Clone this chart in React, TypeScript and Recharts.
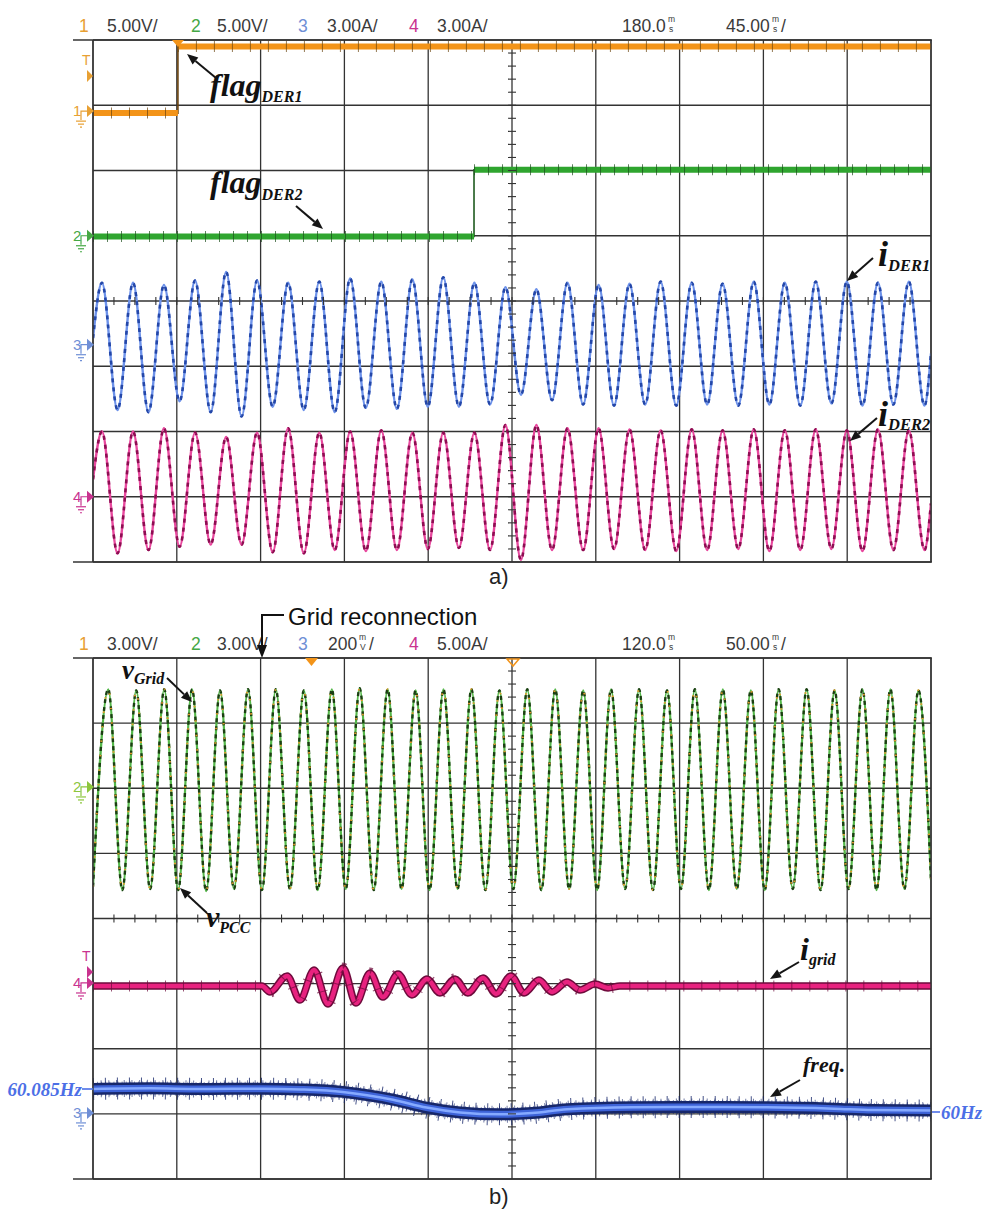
import React from 'react';
import { LineChart, Line, XAxis, YAxis, CartesianGrid, ReferenceLine } from 'recharts';

// ---------------- shared ----------------
const DIV_TICKS = [-4, -3, -2, -1, 0, 1, 2, 3, 4];

// ---------------- panel a (45 ms/div) ----------------
const A_XTICKS = [0, 45, 90, 135, 180, 225, 270, 315, 360, 405, 450];
// flag_DER1 (ch1, V): [start, switch, end] times and [low, high] levels
const flag1Times = [0, 45.6, 450];
const flag1Levels = [-0.15, 4.95];
// flag_DER2 (ch2, V)
const flag2Times = [0, 204.6, 450];
const flag2Levels = [-0.05, 5.05];
// i_DER1 / i_DER2 extrema times (ms)
const aPeakT = [4.8, 21.5, 38.1, 54.8, 71.5, 88.1, 104.8, 121.5, 138.1, 154.8, 171.5, 188.1, 204.8, 221.5, 238.1, 254.8, 271.5, 288.1, 304.8, 321.5, 338.1, 354.8, 371.5, 388.1, 404.8, 421.5, 438.1];
const aTroughT = [13.2, 29.8, 46.5, 63.2, 79.8, 96.5, 113.2, 129.8, 146.5, 163.2, 179.8, 196.5, 213.2, 229.8, 246.5, 263.2, 279.8, 296.5, 313.2, 329.8, 346.5, 363.2, 379.8, 396.5, 413.2, 429.8, 446.5];
// i_DER1 (ch3, A)
const iDer1Peak = [2.85, 2.85, 2.75, 2.95, 3.35, 2.95, 2.85, 2.9, 3.05, 2.9, 3.0, 3.1, 2.85, 2.65, 2.55, 2.85, 2.75, 2.8, 2.9, 2.85, 2.8, 2.9, 2.85, 2.9, 2.9, 2.85, 2.9];
const iDer1Trough = [-3.0, -3.1, -2.6, -3.1, -3.3, -2.85, -3.0, -3.1, -2.9, -2.95, -2.85, -2.85, -2.75, -2.3, -2.55, -2.75, -2.8, -2.75, -2.8, -2.75, -2.8, -2.75, -2.8, -2.7, -2.8, -2.75, -2.8];
const iDer1Ends = [0.3, -0.4];
// i_DER2 (ch4, A)
const iDer2Peak = [3.0, 3.0, 3.15, 2.95, 2.75, 2.95, 3.15, 2.95, 3.0, 3.05, 2.95, 2.95, 2.95, 3.3, 3.3, 3.15, 3.15, 3.1, 3.05, 3.1, 3.05, 3.1, 3.05, 3.1, 3.05, 3.1, 3.05];
const iDer2Trough = [-2.6, -2.45, -2.3, -2.2, -2.2, -2.55, -2.6, -2.45, -2.5, -2.45, -2.4, -2.35, -2.45, -2.9, -2.45, -2.45, -2.4, -2.45, -2.5, -2.45, -2.4, -2.5, -2.45, -2.4, -2.5, -2.45, -2.45];
const iDer2Ends = [0.8, -0.3];

// ---------------- panel b (50 ms/div) ----------------
const B_XTICKS = [0, 50, 100, 150, 200, 250, 300, 350, 400, 450, 500];
const bPeakT = [9.1, 25.8, 42.5, 59.1, 75.8, 92.5, 109.1, 125.8, 142.5, 159.1, 175.8, 192.5, 209.1, 225.8, 242.5, 259.1, 275.8, 292.5, 309.1, 325.8, 342.5, 359.1, 375.8, 392.5, 409.1, 425.8, 442.5, 459.1, 475.8, 492.5];
const bTroughT = [17.5, 34.1, 50.8, 67.5, 84.1, 100.8, 117.5, 134.1, 150.8, 167.5, 184.1, 200.8, 217.5, 234.1, 250.8, 267.5, 284.1, 300.8, 317.5, 334.1, 350.8, 367.5, 384.1, 400.8, 417.5, 434.1, 450.8, 467.5, 484.1];
// v_Grid / v_PCC (ch2, V) — traces overlap
const vPeak = [4.5, 4.45, 4.5, 4.5, 4.45, 4.5, 4.5, 4.45, 4.5, 4.55, 4.5, 4.45, 4.5, 4.5, 4.45, 4.5, 4.5, 4.45, 4.5, 4.5, 4.45, 4.5, 4.5, 4.45, 4.5, 4.5, 4.45, 4.5, 4.5, 4.45];
const vTrough = [-4.75, -4.7, -4.75, -4.8, -4.7, -4.75, -4.7, -4.75, -4.7, -4.75, -4.7, -4.75, -4.7, -4.75, -4.7, -4.75, -4.7, -4.75, -4.7, -4.75, -4.7, -4.75, -4.7, -4.75, -4.7, -4.75, -4.7, -4.75, -4.7];
const vEnds = [-4.6, -4.3];
// i_grid (ch4, A)
const iGridT = [0, 100.8, 105.6, 115.8, 123.5, 131.9, 140.2, 149.2, 156.9, 165.3, 173.0, 182.0, 190.3, 199.3, 207.0, 216.0, 223.7, 232.7, 240.5, 249.4, 257.2, 266.1, 273.9, 282.8, 290.6, 299.5, 307.3, 314.4, 500];
const iGridV = [-0.23, -0.23, -0.69, 0.54, -1.31, 1.0, -1.61, 1.15, -1.54, 0.77, -1.08, 0.69, -0.92, 0.31, -0.77, 0.31, -0.77, 0.38, -0.84, 0.54, -0.77, 0.23, -0.69, 0.08, -0.54, -0.08, -0.38, -0.23, -0.23];
// frequency (ch3, Hz)
const freqT = [0, 34, 64, 101, 124, 149, 179, 199, 219, 243, 262, 283, 322, 362, 402, 442, 465, 500];
const freqV = [60.085, 60.087, 60.085, 60.086, 60.083, 60.074, 60.045, 60.016, 59.998, 59.991, 59.996, 60.01, 60.017, 60.018, 60.017, 60.012, 60.007, 60.005];

// ---------------- channel settings (offset in div, units per div) ----------------
type Ch = { offset: number; scale: number; ref: number };
const A_CH1: Ch = { offset: 2.91, scale: 5, ref: 0 };
const A_CH2: Ch = { offset: 1.0, scale: 5, ref: 0 };
const A_CH3: Ch = { offset: -0.67, scale: 3, ref: 0 };
const A_CH4: Ch = { offset: -3.0, scale: 3, ref: 0 };
const B_CH2: Ch = { offset: 2.02, scale: 3, ref: 0 };
const B_CH4: Ch = { offset: -0.99, scale: 5, ref: 0 };
const B_CH3: Ch = { offset: -2.97, scale: 0.2406, ref: 60 };
const dom = (c: Ch): [number, number] => [c.ref + (-4 - c.offset) * c.scale, c.ref + (4 - c.offset) * c.scale];
const divToVal = (c: Ch, d: number) => c.ref + (d - c.offset) * c.scale;

type Pt = { t: number; v: number | null };
const zip = (t: number[], v: number[]): Pt[] => t.map((x, i) => ({ t: x, v: v[i] }));
const wave = (t0: number, t1: number, ends: number[], pt: number[], pv: number[], tt: number[], tv: number[]): Pt[] =>
  [{ t: t0, v: ends[0] }, ...zip(pt, pv), ...zip(tt, tv), { t: t1, v: ends[1] }].sort((a, b) => a.t - b.t);
const flagStep = (times: number[], lv: number[]): Pt[] => [
  { t: times[0], v: lv[0] }, { t: times[1], v: lv[0] }, { t: times[1], v: lv[1] }, { t: times[2], v: lv[1] },
];
const flagFlat = (times: number[], lv: number[]): Pt[] => [
  { t: times[0], v: lv[0] }, { t: times[1], v: lv[0] }, { t: times[1], v: null }, { t: times[1], v: lv[1] }, { t: times[2], v: lv[1] },
];

const f1Step = flagStep(flag1Times, flag1Levels);
const f1Flat = flagFlat(flag1Times, flag1Levels);
const f2Step = flagStep(flag2Times, flag2Levels);
const f2Flat = flagFlat(flag2Times, flag2Levels);
const iDer1 = wave(0, 450, iDer1Ends, aPeakT, iDer1Peak, aTroughT, iDer1Trough);
const iDer2 = wave(0, 450, iDer2Ends, aPeakT, iDer2Peak, aTroughT, iDer2Trough);
const vGrid = wave(0, 500, vEnds, bPeakT, vPeak, bTroughT, vTrough);
const iGrid = zip(iGridT, iGridV);
const freq = zip(freqT, freqV);

const common = { dot: false, activeDot: false, isAnimationActive: false, dataKey: 'v' } as const;

// ---------------- layout (matches chart margins) ----------------
const LEFT = 93, RIGHT = 931;
const A_TOP = 40, A_BOT = 562, B_TOP = 658, B_BOT = 1179;
const yOf = (top: number, bot: number, div: number) => top + (4 - div) * (bot - top) / 8;

const HDR = "'Liberation Sans', Arial, sans-serif";
const SERIF = "'Liberation Serif', 'Times New Roman', serif";
const C_OR = '#e8a033', C_GR = '#45a845', C_BL = '#6f8fd6', C_MG = '#c9338f';
const GRID = '#333';

function Arrow({ x1, y1, x2, y2 }: { x1: number; y1: number; x2: number; y2: number }) {
  const a = Math.atan2(y2 - y1, x2 - x1);
  const L = 11, w = 4.5;
  const bx = x2 - L * Math.cos(a), by = y2 - L * Math.sin(a);
  const px = -Math.sin(a) * w, py = Math.cos(a) * w;
  return (
    <g>
      <line x1={x1} y1={y1} x2={bx} y2={by} stroke="#151515" strokeWidth={2} />
      <polygon points={`${x2},${y2} ${bx + px},${by + py} ${bx - px},${by - py}`} fill="#151515" />
    </g>
  );
}

function ChMarker({ y, label, color }: { y: number; label: string; color: string }) {
  return (
    <g>
      <text x={73} y={y + 5} fontSize={15} fontFamily={HDR} fill={color}>{label}</text>
      <path d={`M81 ${y + 9} V${y} H87`} fill="none" stroke={color} strokeWidth={1.2} />
      <polygon points={`87,${y - 6} 94,${y} 87,${y + 6}`} fill={color} />
      <line x1={76} x2={86} y1={y + 10} y2={y + 10} stroke={color} strokeWidth={1.2} />
      <line x1={78} x2={84} y1={y + 13} y2={y + 13} stroke={color} strokeWidth={1.2} />
      <line x1={80} x2={82} y1={y + 16} y2={y + 16} stroke={color} strokeWidth={1.2} />
    </g>
  );
}

function Trig({ y, color }: { y: number; color: string }) {
  return (
    <g>
      <text x={82} y={y} fontSize={14} fontFamily={HDR} fill={color}>T</text>
      <polygon points={`87,${y + 5} 93,${y + 11} 87,${y + 17}`} fill={color} />
    </g>
  );
}

// stacked unit (e.g. m over s) as one text element
function Stack({ x, y, top, bottom }: { x: number; y: number; top: string; bottom: string }) {
  return (
    <text fontSize={8.5} fontFamily={HDR} fill="#3a3a3a">
      <tspan x={x} y={y - 10}>{top}</tspan>
      <tspan x={x + 1} y={y}>{bottom}</tspan>
    </text>
  );
}

function Crosshair({ top, bot }: { top: number; bot: number }) {
  const cx = (LEFT + RIGHT) / 2;
  const cy = (top + bot) / 2;
  const items: JSX.Element[] = [];
  for (let k = 1; k < 40; k++) {
    const y = top + (k * (bot - top)) / 40;
    items.push(<line key={'v' + k} x1={cx - 4} x2={cx + 4} y1={y} y2={y} stroke={GRID} strokeWidth={1.1} />);
    const x = LEFT + (k * (RIGHT - LEFT)) / 40;
    items.push(<line key={'h' + k} x1={x} x2={x} y1={cy - 4} y2={cy + 4} stroke={GRID} strokeWidth={1.1} />);
  }
  return <g>{items}</g>;
}

function Header({ y, c1, c2, c3, c4, pos, div }: { y: number; c1: string; c2: string; c3: React.ReactNode; c4: string; pos: string; div: string }) {
  return (
    <g fontFamily={HDR} fontSize={17.5} fill="#3a3a3a">
      <text x={79} y={y} fill={C_OR}>1</text>
      <text x={107} y={y}>{c1}</text>
      <text x={191} y={y} fill={C_GR}>2</text>
      <text x={217} y={y}>{c2}</text>
      <text x={298} y={y} fill={C_BL}>3</text>
      {c3}
      <text x={409} y={y} fill={C_MG}>4</text>
      <text x={437} y={y}>{c4}</text>
      <text x={622} y={y}>{pos}</text>
      <Stack x={668} y={y} top="m" bottom="s" />
      <text x={726} y={y}>{div}</text>
      <Stack x={772} y={y} top="m" bottom="s" />
      <text x={781} y={y}>/</text>
    </g>
  );
}

function Lbl({ x, y, main, sub, size, subSize, dy }: { x: number; y: number; main: string; sub: string; size: number; subSize: number; dy: number }) {
  return (
    <text x={x} y={y} fontFamily={SERIF} fontWeight="bold" fontStyle="italic" fontSize={size} fill="#111">
      {main}
      <tspan fontSize={subSize} dy={dy}>{sub}</tspan>
    </text>
  );
}

function Overlay() {
  const aY = (c: Ch) => yOf(A_TOP, A_BOT, c.offset);
  const bY = (c: Ch) => yOf(B_TOP, B_BOT, c.offset);
  return (
    <svg width={985} height={1217} style={{ position: 'absolute', left: 0, top: 0, pointerEvents: 'none' }}>
      {/* frame lines */}
      {[A_TOP, A_BOT, B_TOP, B_BOT].map((y) => (
        <line key={y} x1={73} x2={932} y1={y} y2={y} stroke={GRID} strokeWidth={1.4} />
      ))}
      {[[A_TOP, A_BOT], [B_TOP, B_BOT]].map(([t, b]) => (
        <g key={t}>
          <line x1={LEFT} x2={LEFT} y1={t} y2={b} stroke={GRID} strokeWidth={1.4} />
          <line x1={RIGHT} x2={RIGHT} y1={t} y2={b} stroke={GRID} strokeWidth={1.4} />
        </g>
      ))}
      <Crosshair top={A_TOP} bot={A_BOT} />
      <Crosshair top={B_TOP} bot={B_BOT} />

      {/* headers */}
      <Header y={32} c1="5.00V/" c2="5.00V/" c3={<text x={327} y={32}>3.00A/</text>} c4="3.00A/" pos="180.0" div="45.00" />
      <Header
        y={650}
        c1="3.00V/"
        c2="3.00V/"
        c3={
          <g>
            <text x={328} y={650}>200</text>
            <Stack x={359} y={650} top="m" bottom="V" />
            <text x={369} y={650}>/</text>
          </g>
        }
        c4="5.00A/"
        pos="120.0"
        div="50.00"
      />

      {/* panel a markers */}
      <polygon points={`172,${A_TOP} 184,${A_TOP} 178,${A_TOP + 7}`} fill="#f39419" />
      <Trig y={65} color={C_OR} />
      <ChMarker y={aY(A_CH1)} label="1" color={C_OR} />
      <ChMarker y={aY(A_CH2)} label="2" color={C_GR} />
      <ChMarker y={aY(A_CH3)} label="3" color={C_BL} />
      <ChMarker y={aY(A_CH4)} label="4" color={C_MG} />

      {/* panel b markers */}
      <polygon points={`305,${B_TOP} 318,${B_TOP} 311.5,${B_TOP + 8}`} fill="#f39419" />
      <polygon points={`507,${B_TOP + 1} 519,${B_TOP + 1} 513,${B_TOP + 8}`} fill="none" stroke="#f39419" strokeWidth={1.5} />
      <ChMarker y={bY(B_CH2)} label="2" color="#8cc63e" />
      <Trig y={yOf(B_TOP, B_BOT, B_CH4.offset) - 22} color={C_MG} />
      <ChMarker y={bY(B_CH4)} label="4" color={C_MG} />
      <ChMarker y={bY(B_CH3) + 1} label="3" color={C_BL} />

      {/* panel a labels */}
      <Lbl x={210} y={96} main="flag" sub="DER1" size={32} subSize={16} dy={6} />
      <Arrow x1={216} y1={78} x2={187} y2={54} />
      <Lbl x={210} y={193} main="flag" sub="DER2" size={32} subSize={16} dy={7} />
      <Arrow x1={296} y1={206} x2={323} y2={229} />
      <Lbl x={878} y={266} main="i" sub="DER1" size={36} subSize={16.5} dy={5} />
      <Arrow x1={873} y1={258} x2={847} y2={281} />
      <Lbl x={878} y={426} main="i" sub="DER2" size={36} subSize={16.5} dy={4} />
      <Arrow x1={877} y1={418} x2={850} y2={441} />
      <text x={489} y={584} fontFamily={HDR} fontSize={22} fill="#222">a)</text>

      {/* panel b labels */}
      <text x={288} y={625} fontFamily={HDR} fontSize={24} fill="#111">Grid reconnection</text>
      <polyline points={`284,615 262,615 262,647`} fill="none" stroke="#111" strokeWidth={2} />
      <polygon points={`257,645 267,645 262,658`} fill="#111" />
      <Lbl x={122} y={679} main="v" sub="Grid" size={27} subSize={16} dy={5} />
      <Arrow x1={167} y1={678} x2={192} y2={702} />
      <Lbl x={206} y={927} main="v" sub="PCC" size={30} subSize={16} dy={6} />
      <Arrow x1={207} y1={913} x2={180} y2={888} />
      <Lbl x={800} y={960} main="i" sub="grid" size={32} subSize={16} dy={5} />
      <Arrow x1={799} y1={962} x2={770} y2={979} />
      <text x={803} y={1072} fontFamily={SERIF} fontWeight="bold" fontStyle="italic" fontSize={22} fill="#111">freq.</text>
      <Arrow x1={800} y1={1080} x2={770} y2={1097} />
      <text x={82} y={1096} textAnchor="end" fontFamily={SERIF} fontWeight="bold" fontStyle="italic" fontSize={19} fill="#4c6fe6">60.085Hz</text>
      <line x1={82} x2={93} y1={1089} y2={1089} stroke="#4c6fe6" strokeWidth={1.6} />
      <line x1={932} x2={940} y1={1112} y2={1112} stroke="#4c6fe6" strokeWidth={1.6} />
      <text x={941} y={1119} fontFamily={SERIF} fontWeight="bold" fontStyle="italic" fontSize={19} fill="#4c6fe6">60Hz</text>
      <text x={489} y={1204} fontFamily={HDR} fontSize={22} fill="#222">b)</text>
    </svg>
  );
}

// horizontal division lines, placed on a channel's own axis
const hLines = (axisId: string, c: Ch) =>
  DIV_TICKS.map((d) => (
    <ReferenceLine key={'g' + d} yAxisId={axisId} y={divToVal(c, d)} stroke={GRID} strokeWidth={1.3} ifOverflow="extendDomain" />
  ));

function PanelA() {
  return (
    <LineChart width={985} height={600} margin={{ top: 40, right: 54, bottom: 38, left: 93 }}>
      <CartesianGrid stroke={GRID} strokeWidth={1.3} horizontal={false} />
      <XAxis dataKey="t" type="number" domain={[0, 450]} ticks={A_XTICKS} hide allowDataOverflow />
      <YAxis yAxisId="c1" type="number" domain={dom(A_CH1)} hide allowDataOverflow />
      <YAxis yAxisId="c2" type="number" domain={dom(A_CH2)} hide allowDataOverflow />
      <YAxis yAxisId="c3" type="number" domain={dom(A_CH3)} hide allowDataOverflow />
      <YAxis yAxisId="c4" type="number" domain={dom(A_CH4)} hide allowDataOverflow />
      {hLines('c3', A_CH3)}
      {/* i_DER2 */}
      <Line {...common} yAxisId="c4" data={iDer2} type="monotone" stroke="#e8489e" strokeWidth={2.4} />
      <Line {...common} yAxisId="c4" data={iDer2} type="monotone" stroke="#8e0d52" strokeWidth={2.6} strokeDasharray="4 5" />
      {/* i_DER1 */}
      <Line {...common} yAxisId="c3" data={iDer1} type="monotone" stroke="#6d92ea" strokeWidth={2.4} />
      <Line {...common} yAxisId="c3" data={iDer1} type="monotone" stroke="#2447a8" strokeWidth={2.6} strokeDasharray="4 5" />
      {/* flag_DER2 */}
      <Line {...common} yAxisId="c2" data={f2Step} type="linear" stroke="#1f5a1f" strokeWidth={1.6} />
      <Line {...common} yAxisId="c2" data={f2Flat} type="linear" stroke="#2fa52f" strokeWidth={6} />
      <Line {...common} yAxisId="c2" data={f2Flat} type="linear" stroke="#1d4d1d" strokeWidth={11} strokeDasharray="1 13" strokeOpacity={0.7} />
      {/* flag_DER1 */}
      <Line {...common} yAxisId="c1" data={f1Step} type="linear" stroke="#6b4410" strokeWidth={1.6} />
      <Line {...common} yAxisId="c1" data={f1Flat} type="linear" stroke="#f39419" strokeWidth={6} />
      <Line {...common} yAxisId="c1" data={f1Flat} type="linear" stroke="#6b4410" strokeWidth={11} strokeDasharray="1 17" strokeOpacity={0.7} />
    </LineChart>
  );
}

function PanelB() {
  return (
    <LineChart width={985} height={617} margin={{ top: 58, right: 54, bottom: 38, left: 93 }}>
      <CartesianGrid stroke={GRID} strokeWidth={1.3} horizontal={false} />
      <XAxis dataKey="t" type="number" domain={[0, 500]} ticks={B_XTICKS} hide allowDataOverflow />
      <YAxis yAxisId="c2" type="number" domain={dom(B_CH2)} hide allowDataOverflow />
      <YAxis yAxisId="c3" type="number" domain={dom(B_CH3)} hide allowDataOverflow />
      <YAxis yAxisId="c4" type="number" domain={dom(B_CH4)} hide allowDataOverflow />
      {hLines('c4', B_CH4)}
      {/* v_Grid / v_PCC */}
      <Line {...common} yAxisId="c2" data={vGrid} type="monotone" stroke="#55b84a" strokeWidth={2.2} />
      <Line {...common} yAxisId="c2" data={vGrid} type="monotone" stroke="#1b3f12" strokeWidth={2.4} strokeDasharray="4 4" />
      <Line {...common} yAxisId="c2" data={vGrid} type="monotone" stroke="#e09a2a" strokeWidth={2} strokeDasharray="1.5 13" />
      {/* i_grid */}
      <Line {...common} yAxisId="c4" data={iGrid} type="monotone" stroke="#6e0b3c" strokeWidth={7.5} />
      <Line {...common} yAxisId="c4" data={iGrid} type="monotone" stroke="#e8227f" strokeWidth={4.5} />
      <Line {...common} yAxisId="c4" data={iGrid} type="monotone" stroke="#6e0b3c" strokeWidth={11} strokeDasharray="1 17" strokeOpacity={0.7} />
      {/* freq */}
      <Line {...common} yAxisId="c3" data={freq} type="monotone" stroke="#17276a" strokeWidth={22} strokeDasharray="1 11" strokeOpacity={0.8} />
      <Line {...common} yAxisId="c3" data={freq} type="monotone" stroke="#17276a" strokeWidth={17} strokeDasharray="1 6.7" strokeOpacity={0.6} />
      <Line {...common} yAxisId="c3" data={freq} type="monotone" stroke="#17276a" strokeWidth={14} strokeDasharray="1 3.1" strokeOpacity={0.5} />
      <Line {...common} yAxisId="c3" data={freq} type="monotone" stroke="#17276a" strokeWidth={12} />
      <Line {...common} yAxisId="c3" data={freq} type="monotone" stroke="#3d63d8" strokeWidth={7} />
      <Line {...common} yAxisId="c3" data={freq} type="monotone" stroke="#86aaff" strokeWidth={2.5} />
    </LineChart>
  );
}

export default function App() {
  return (
    <div style={{ position: 'absolute', left: 0, top: 0, width: 985, height: 1217, background: '#fff' }}>
      <div style={{ position: 'absolute', left: 0, top: 0 }}>
        <PanelA />
      </div>
      <div style={{ position: 'absolute', left: 0, top: 600 }}>
        <PanelB />
      </div>
      <Overlay />
    </div>
  );
}
